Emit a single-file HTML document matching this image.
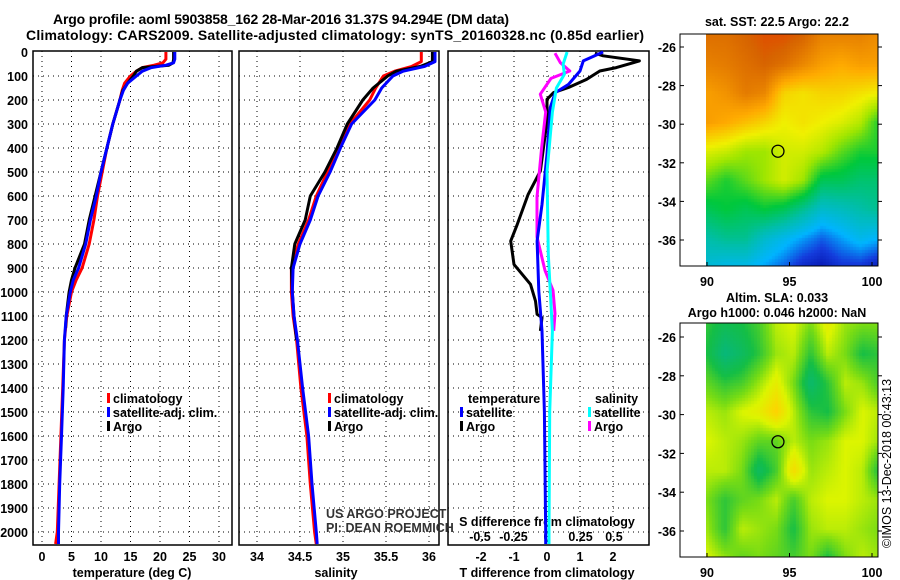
<!DOCTYPE html>
<html><head><meta charset="utf-8">
<style>
html,body{margin:0;padding:0;background:#fff;}
svg text{font-family:"Liberation Sans",sans-serif;}
.b{font-weight:bold;font-size:12.5px;}
.t{font-weight:bold;font-size:14px;}
#wrap{position:relative;width:900px;height:580px;}
canvas{position:absolute;}
</style></head>
<body>
<div id="wrap">
<canvas id="sst" width="172" height="232" style="left:706px;top:34px;width:172px;height:232px"></canvas>
<canvas id="sla" width="172" height="234" style="left:706px;top:323px;width:172px;height:234px"></canvas>
<svg id="fig" width="900" height="580" style="position:absolute;left:0;top:0" xmlns="http://www.w3.org/2000/svg">
<text class="t" x="281" y="24" text-anchor="middle" textLength="456">Argo profile: aoml 5903858_162 28-Mar-2016 31.37S 94.294E (DM data)</text>
<text class="t" x="335" y="40" text-anchor="middle" textLength="618">Climatology: CARS2009. Satellite-adjusted climatology: synTS_20160328.nc (0.85d earlier)</text>
<g id="g"></g>
</svg>
</div>
<script>
// ---------- data ----------
const depthT = [0,30,45,55,65,80,100,130,160,200,300,400,500,600,700,800,900,950,1000,1100,1200,1400,1600,1800,2000,2050];
const tempClim = [21.0,21.0,20.5,19,17,16,15,14,13.6,13.2,12,11,10.2,9.4,8.8,8.0,6.8,5.8,5.0,4.2,3.8,3.5,3.2,2.9,2.6,2.3];
const tempSat = [22.5,22.5,22.3,21,18.5,17,16,14.5,13.8,13.2,12,11,10.0,9.2,8.2,7.4,6.2,5.3,4.8,4.1,3.8,3.6,3.3,3.0,2.8,2.8];
const depthArgo = [0,30,45,55,65,80,100,130,160,200,300,400,500,600,700,800,900,950,1000,1100,1150];
const tempArgo = [22.3,22.3,22.2,21.5,17,16,15.5,14.5,13.7,13.2,12,11,10,9.0,8.0,7.2,5.6,5.0,4.6,4.1,4.0];
const depthS = [0,40,60,80,100,150,200,300,400,500,600,700,800,900,1000,1100,1200,1400,1600,1800,2000,2050];
const salClim = [35.91,35.91,35.8,35.6,35.47,35.38,35.31,35.08,34.95,34.82,34.69,34.6,34.48,34.4,34.4,34.42,34.46,34.51,34.58,34.62,34.67,34.69];
const salSat = [36.07,36.07,35.95,35.7,35.58,35.45,35.37,35.1,34.97,34.85,34.71,34.62,34.5,34.42,34.41,34.43,34.47,34.53,34.6,34.64,34.69,34.7];
const salArgo = [36.04,36.04,35.9,35.62,35.52,35.35,35.23,35.05,34.93,34.79,34.62,34.56,34.44,34.4,34.41,34.43,34.46];
const depthDT = [5,16,37,65,79,114,148,169,197,287,496,593,718,788,885,968,1038,1093,1107,1162];
const dTArgo = [1.45,1.7,2.8,2.1,1.6,1.2,0.65,0.2,0,0,-0.2,-0.57,-0.9,-1.1,-1.0,-0.5,-0.35,-0.3,-0.15,-0.2];
const depthDTs = [0,37,79,135,169,231,426,635,788,996,1162,1500,2000,2050];
const dTSat = [1.7,1.1,1.0,0.65,0.25,0.1,0,-0.15,-0.3,-0.25,-0.15,-0.08,-0.04,-0.04];
const depthDSs = [0,51,93,150,250,500,843,1162,1500,2000,2050];
const dSSat = [0.15,0.12,0.13,0.07,0.04,0,0.01,0.04,0.02,0.015,0.015];
const depthDSa = [5,45,79,110,176,250,400,604,771,910,993,1090,1162];
const dSArgo = [0.06,0.1,0.17,0.03,-0.05,-0.01,-0.04,-0.075,-0.075,-0.015,0.045,0.06,0.05];
const depthTicks = [0,100,200,300,400,500,600,700,800,900,1000,1100,1200,1300,1400,1500,1600,1700,1800,1900,2000];
const tempTicks = [0,5,10,15,20,25,30];
const salTicks = [34,34.5,35,35.5,36];
const salTickLabels = ["34","34.5","35","35.5","36"];
const dTTicks = [-2,-1,0,1,2];
const dSTicks = [-0.5,-0.25,0,0.25,0.5];
const latTicks = [-26,-28,-30,-32,-34,-36];
const lonTicks = [90,95,100];
const sstGrid = [
[0.88,0.88,0.9,0.92,0.92,0.9,0.85,0.85,0.85,0.83],
[0.85,0.86,0.88,0.9,0.88,0.84,0.8,0.78,0.8,0.8],
[0.8,0.82,0.86,0.84,0.72,0.7,0.72,0.72,0.7,0.68],
[0.8,0.78,0.75,0.72,0.68,0.7,0.68,0.66,0.62,0.5],
[0.66,0.64,0.6,0.6,0.65,0.65,0.62,0.55,0.5,0.5],
[0.55,0.5,0.55,0.6,0.65,0.6,0.45,0.45,0.42,0.42],
[0.45,0.48,0.45,0.48,0.45,0.38,0.3,0.32,0.35,0.38],
[0.35,0.38,0.38,0.3,0.25,0.2,0.15,0.2,0.25,0.22],
[0.28,0.25,0.25,0.2,0.15,0.08,0.05,0.1,0.1,0.05]];
const slaGrid = [
[0.35,0.25,0.3,0.4,0.6,0.65,0.5,0.7,0.55,0.5,0.5],
[0.3,0.1,0.2,0.35,0.55,0.6,0.35,0.6,0.5,0.3,0.35],
[0.45,0.35,0.4,0.55,0.7,0.5,0.15,0.35,0.6,0.55,0.4],
[0.6,0.55,0.65,0.7,0.85,0.6,0.35,0.3,0.5,0.65,0.6],
[0.65,0.6,0.55,0.45,0.45,0.6,0.5,0.55,0.65,0.65,0.55],
[0.6,0.6,0.5,0.2,0.4,0.8,0.55,0.6,0.65,0.6,0.3],
[0.5,0.35,0.45,0.5,0.6,0.4,0.6,0.65,0.65,0.6,0.55],
[0.55,0.35,0.6,0.55,0.5,0.3,0.55,0.6,0.6,0.55,0.5],
[0.65,0.55,0.45,0.5,0.45,0.4,0.5,0.3,0.5,0.6,0.55]];
const floatPos = [94.3,-31.4];

// ---------- axes ----------
const yD = d => 52 + d*0.24;
const xT = v => 42 + v*5.9;
const xS = v => 257 + (v-34)*86;
const xDT = v => 547 + v*33;
const xDS = v => 547 + v*134;
const mapX = lon => 707 + (lon-90)*16.5;
const map1Y = lat => 47 + (-26-lat)*19.3;
const map2Y = lat => 337 + (-26-lat)*19.4;

const NS="http://www.w3.org/2000/svg";
const G=document.getElementById('g');
function el(tag,attrs,parent){const e=document.createElementNS(NS,tag);for(const k in attrs)e.setAttribute(k,attrs[k]);(parent||G).appendChild(e);return e;}
function txt(x,y,s,cls,anchor,parent){const e=el('text',{x:x,y:y,'class':cls||'b','text-anchor':anchor||'start'},parent);e.textContent=s;return e;}

const panels=[{x0:33,x1:232,name:'temperature-panel'},{x0:239,x1:439,name:'salinity-panel'},{x0:448,x1:649,name:'difference-panel'}];
const pTop=51,pBot=545;
panels.forEach((p,i)=>{
  const g=el('g',{});
  
  
  depthTicks.forEach(d=>{ if(d>0) el('line',{x1:p.x0,x2:p.x1,y1:yD(d),y2:yD(d),stroke:'#000','stroke-width':1,'stroke-dasharray':'1 4'},g);});
  let xs=[];
  if(i==0) xs=tempTicks.map(xT); else if(i==1) xs=salTicks.map(xS); else xs=dTTicks.map(xDT);
  xs.forEach(x=>el('line',{x1:x,x2:x,y1:pTop,y2:pBot,stroke:'#000','stroke-width':1,'stroke-dasharray':'1 4'},g));
  el('rect',{x:p.x0,y:pTop,width:p.x1-p.x0,height:pBot-pTop,fill:'none',stroke:'#000','stroke-width':1.5},g);
});
const yl=el('g',{});


depthTicks.forEach(d=>txt(28,yD(d)+5,String(d),'b','end',yl));
const xl=el('g',{});


tempTicks.forEach(v=>txt(xT(v),561,String(v),'b','middle',xl));
salTicks.forEach((v,i)=>txt(xS(v),561,salTickLabels[i],'b','middle',xl));
dTTicks.forEach(v=>txt(xDT(v),561,String(v),'b','middle',xl));
dSTicks.forEach(v=>txt(xDS(v),541,String(v),'b','middle',xl));
const t1=txt(132,577,'temperature (deg C)','b','middle');


const t2=txt(336,577,'salinity','b','middle');


const t3=txt(547,577,'T difference from climatology','b','middle');


const t4=txt(547,526,'S difference from climatology','b','middle');



function line(xsArr,ds,xf,color,name){
  const pts=xsArr.map((v,i)=>xf(v).toFixed(1)+','+yD(ds[i]).toFixed(1)).join(' ');
  const e=el('polyline',{points:pts,fill:'none',stroke:color,'stroke-width':3,'stroke-linejoin':'round'});
  
  
  return e;
}
line(tempClim,depthT,xT,'#f00','temp-climatology-line');
line(tempArgo,depthArgo,xT,'#000','temp-argo-line');
line(tempSat,depthT,xT,'#00f','temp-satellite-line');
line(salClim,depthS,xS,'#f00','sal-climatology-line');
line(salArgo,depthS.slice(0,salArgo.length),xS,'#000','sal-argo-line');
line(salSat,depthS,xS,'#00f','sal-satellite-line');
line(dTArgo,depthDT,xDT,'#000','dT-argo-line');
line(dSArgo,depthDSa,xDS,'#f0f','dS-argo-line');
line(dTSat,depthDTs,xDT,'#00f','dT-satellite-line');
line(dSSat,depthDSs,xDS,'#0ff','dS-satellite-line');

function legEntry(x,y,color,label,name){
  const g=el('g',{});
  
  
  el('rect',{x:x,y:y-10,width:3,height:10,fill:color},g);
  txt(x+6,y,label,'b','start',g);
}
legEntry(107,403,'#f00','climatology','legend-climatology');
legEntry(107,417,'#00f','satellite-adj. clim.','legend-satellite-adj');
legEntry(107,431,'#000','Argo','legend-argo');
legEntry(328,403,'#f00','climatology','legend-sal-climatology');
legEntry(328,417,'#00f','satellite-adj. clim.','legend-sal-satellite-adj');
legEntry(328,431,'#000','Argo','legend-sal-argo');
txt(468,403,'temperature','b','start');
legEntry(460,417,'#00f','satellite','legend-t-satellite');
legEntry(460,431,'#000','Argo','legend-t-argo');
txt(595,403,'salinity','b','start');
legEntry(588,417,'#0ff','satellite','legend-s-satellite');
legEntry(588,431,'#f0f','Argo','legend-s-argo');
const cr=el('g',{});


const c1=txt(326,518,'US ARGO PROJECT','','start',cr);c1.setAttribute('style','font-size:12.5px;fill:#333');
const c2=txt(326,532,'PI: DEAN ROEMMICH','','start',cr);c2.setAttribute('style','font-size:12.5px;fill:#333');

function mapFrame(y0,y1,yf,name){
  const g=el('g',{});
  
  
  el('rect',{x:680,y:y0,width:198,height:y1-y0,fill:'none',stroke:'#000','stroke-width':1},g);
  latTicks.forEach(l=>{const y=yf(l);
    el('line',{x1:680,x2:684,y1:y,y2:y,stroke:'#000'},g);
    el('line',{x1:878,x2:882,y1:y,y2:y,stroke:'#000'},g);
    txt(676,y+5,String(l),'b','end',g);});
  lonTicks.forEach(l=>{const x=mapX(l);
    el('line',{x1:x,x2:x,y1:y1,y2:y1-4,stroke:'#000'},g);
    txt(x,y1+20,String(l),'b','middle',g);});
  const c=el('circle',{cx:mapX(floatPos[0]),cy:yf(floatPos[1]),r:6,fill:'none',stroke:'#000','stroke-width':1.3},g);
  
  
}
mapFrame(34,266,map1Y,'sst-map');
mapFrame(323,557,map2Y,'sla-map');
txt(777,26,'sat. SST: 22.5 Argo: 22.2','b','middle');
txt(777,302,'Altim. SLA: 0.033','b','middle');
txt(777,317,'Argo h1000: 0.046 h2000: NaN','b','middle');
const im=el('text',{x:0,y:0,transform:'translate(891,548) rotate(-90)',style:'font-size:12.5px'});
im.textContent='©IMOS 13-Dec-2018 00:43:13';



function interpC(stops,v){v=Math.max(0,Math.min(1,v));for(let i=1;i<stops.length;i++){if(v<=stops[i][0]){const a=stops[i-1],b=stops[i],f=(v-a[0])/(b[0]-a[0]||1);return [0,1,2].map(k=>Math.round(a[1][k]+(b[1][k]-a[1][k])*f));}}return stops[stops.length-1][1];}
const sstStops=[[0,[0,0,150]],[0.12,[20,60,220]],[0.22,[0,180,255]],[0.35,[0,190,170]],[0.48,[0,200,60]],[0.6,[160,230,0]],[0.68,[240,240,0]],[0.78,[255,170,0]],[0.9,[215,100,0]],[1,[255,0,0]]];
const slaStops=[[0,[0,180,150]],[0.3,[20,190,70]],[0.5,[120,220,20]],[0.65,[220,245,0]],[0.85,[255,210,0]],[1,[255,170,0]]];
function bil(grid,fx,fy){const R=grid.length-1,C=grid[0].length-1;const x=fx*C,y=fy*R;const i=Math.min(Math.floor(y),R-1),j=Math.min(Math.floor(x),C-1);const a=y-i,b=x-j;return grid[i][j]*(1-a)*(1-b)+grid[i][j+1]*(1-a)*b+grid[i+1][j]*a*(1-b)+grid[i+1][j+1]*a*b;}
function draw(id,grid,stops,cell){
  const cv=document.getElementById(id),ctx=cv.getContext('2d');
  for(let y=0;y<cv.height;y+=cell)for(let x=0;x<cv.width;x+=cell){
    const v=bil(grid,x/cv.width,y/cv.height);const c=interpC(stops,v);
    ctx.fillStyle='rgb('+c.join(',')+')';ctx.fillRect(x,y,cell,cell);}
}
draw('sst',sstGrid,sstStops,3);
draw('sla',slaGrid,slaStops,3);
</script>
</body></html>
